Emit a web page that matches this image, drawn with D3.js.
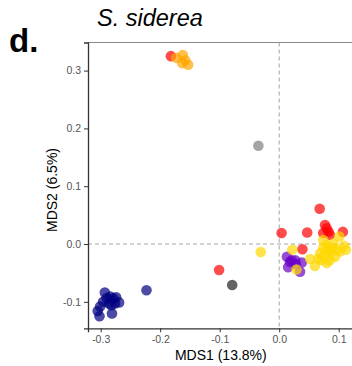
<!DOCTYPE html>
<html>
<head>
<meta charset="utf-8">
<script src="https://cdn.jsdelivr.net/npm/d3@7"></script>
<style>
  body { margin: 0; background: #fff; }
  text { font-family: "Liberation Sans", Arial, sans-serif; }
</style>
</head>
<body>
<div id="chart"></div>
<script>
// MDS coordinates per group
const navyPts = [[-0.293,-0.084],[-0.284,-0.091],[-0.279,-0.094],[-0.290,-0.094],[-0.296,-0.100],
  [-0.269,-0.101],[-0.301,-0.108],[-0.282,-0.106],[-0.302,-0.125],[-0.281,-0.120],[-0.286,-0.103],
  [-0.276,-0.103],[-0.305,-0.116],[-0.274,-0.092],[-0.223,-0.080]];
const greyPts = [[-0.035,0.170]];
const darkGreyPts = [[-0.079,-0.071]];
const purplePts = [[0.013,-0.022],[0.018,-0.031],[0.027,-0.028],[0.015,-0.040],[0.038,-0.032],
  [0.035,-0.048],[0.021,-0.028],[0.028,-0.035]];
const redPts = [[-0.182,0.325],[0.068,0.061],[0.004,0.019],[0.047,0.020],[0.077,0.033],[0.080,0.027],
  [0.074,0.019],[0.083,0.021],[0.107,0.021],[0.039,-0.009],[0.085,0.016],[-0.101,-0.045]];
const orangePts = [[-0.173,0.322],[-0.162,0.327],[-0.158,0.318],[-0.163,0.313],[-0.153,0.310]];
const goldPts = [[-0.031,-0.014],[0.022,-0.010],[0.052,-0.026],[0.060,-0.038],[0.029,-0.044],
  [0.074,0.007],[0.101,0.013],[0.080,-0.002],[0.088,-0.007],[0.097,-0.010],[0.085,-0.016],
  [0.077,-0.019],[0.069,-0.016],[0.094,-0.022],[0.085,-0.028],[0.071,-0.028],[0.080,-0.033],
  [0.066,-0.025],[0.102,-0.013],[0.091,0.001],[0.074,-0.007],[0.083,-0.010],[0.109,-0.003],[0.112,-0.010]];

const xTicks = [-0.3, -0.2, -0.1, 0.0, 0.1];
const yTicks = [-0.1, 0.0, 0.1, 0.2, 0.3];

const groups = [
  { name: "navy", pts: navyPts },
  { name: "grey", pts: greyPts },
  { name: "darkgrey", pts: darkGreyPts },
  { name: "purple", pts: purplePts },
  { name: "red", pts: redPts },
  { name: "orange", pts: orangePts },
  { name: "gold", pts: goldPts }
];

const color = d3.scaleOrdinal()
  .domain(["navy", "grey", "darkgrey", "purple", "red", "orange", "gold"])
  .range(["#000080", "#7f7f7f", "#222222", "#6a00c6", "#ff0000", "#ffa500", "#ffd700"]);

const width = 352, height = 366;
const mLeft = 88, mTop = 42.5, mRight = 354, mBottom = 328.3;

const svg = d3.select("#chart").append("svg")
  .attr("width", width)
  .attr("height", height);

const x = d3.scaleLinear().domain([-0.3213, 0.1257]).range([mLeft, mRight]);
const y = d3.scaleLinear().domain([-0.1458, 0.3486]).range([mBottom, mTop]);

// top border
svg.append("line")
  .attr("x1", mLeft).attr("x2", mRight)
  .attr("y1", mTop).attr("y2", mTop)
  .attr("stroke", "#888").attr("stroke-width", 1.2);

// zero reference lines
svg.append("line")
  .attr("x1", x(0)).attr("x2", x(0))
  .attr("y1", mTop).attr("y2", mBottom)
  .attr("stroke", "#999").attr("stroke-dasharray", "4,3").attr("stroke-width", 0.9);
svg.append("line")
  .attr("x1", mLeft).attr("x2", mRight)
  .attr("y1", y(0)).attr("y2", y(0))
  .attr("stroke", "#999").attr("stroke-dasharray", "4,3").attr("stroke-width", 0.9);

groups.forEach(g => {
  svg.append("g").selectAll("circle")
    .data(g.pts)
    .enter()
    .append("circle")
    .attr("cx", d => x(d[0]))
    .attr("cy", d => y(d[1]))
    .attr("r", 5.3)
    .attr("fill", color(g.name))
    .attr("fill-opacity", 0.7);
});

const fmt = d => d.toFixed(1);

const xAxis = svg.append("g")
  .attr("transform", `translate(0,${mBottom})`)
  .call(d3.axisBottom(x).tickValues(xTicks).tickFormat(fmt).tickSize(4).tickPadding(3));
const yAxis = svg.append("g")
  .attr("transform", `translate(${mLeft},0)`)
  .call(d3.axisLeft(y).tickValues(yTicks).tickFormat(fmt).tickSize(4).tickPadding(3));

[xAxis, yAxis].forEach(a => {
  a.select(".domain").attr("stroke", "#333").attr("stroke-width", 1.3);
  a.selectAll(".tick line").attr("stroke", "#333");
  a.selectAll(".tick text")
    .attr("fill", "#555")
    .style("font-size", "10.5px")
    .style("font-family", "'Liberation Sans', Arial, sans-serif");
});

svg.append("text")
  .attr("x", 220.8).attr("y", 359.5)
  .attr("text-anchor", "middle")
  .style("font-size", "14px")
  .text("MDS1 (13.8%)");

svg.append("text")
  .attr("transform", "translate(56.5,190) rotate(-90)")
  .attr("text-anchor", "middle")
  .style("font-size", "14px")
  .text("MDS2 (6.5%)");

svg.append("text")
  .attr("x", 97).attr("y", 26)
  .style("font-size", "23.5px")
  .style("font-style", "italic")
  .text("S. siderea");

svg.append("text")
  .attr("x", 9).attr("y", 52)
  .style("font-size", "33px")
  .style("font-weight", "bold")
  .text("d.");
</script>
</body>
</html>
